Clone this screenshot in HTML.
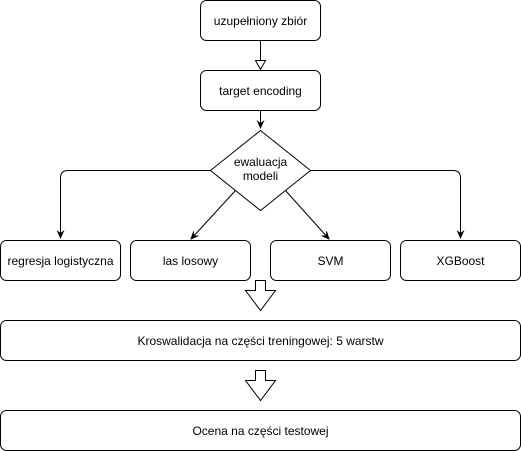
<!DOCTYPE html>
<html><head><style>body{margin:0;background:#fff}svg{display:block}text{font-family:"Liberation Sans",sans-serif;font-size:12px;fill:#000}</style></head><body>
<svg width="521" height="451" viewBox="0 0 521 451">
<defs>
<marker id="a" markerWidth="10" markerHeight="10" refX="8" refY="5" orient="auto" markerUnits="userSpaceOnUse"><path d="M0,1 L9,5 L0,9 L3,5 Z" fill="#000"/></marker>
</defs>
<g fill="#fff" stroke="#000" stroke-width="1">
<rect x="200.5" y="0.5" width="120" height="40" rx="6"/>
<rect x="200.5" y="70.5" width="120" height="40" rx="6"/>
<path d="M260.5,130.5 L310.5,170.5 L260.5,210.5 L210.5,170.5 Z"/>
<rect x="0.5" y="240.5" width="120" height="40" rx="6"/>
<rect x="130.5" y="240.5" width="120" height="40" rx="6"/>
<rect x="270.5" y="240.5" width="120" height="40" rx="6"/>
<rect x="400.5" y="240.5" width="120" height="40" rx="6"/>
<rect x="0.5" y="320.5" width="520" height="40" rx="6"/>
<rect x="0.5" y="410.5" width="520" height="40" rx="6"/>
<path d="M255.5,280.5 h10 v10 h10 l-15,20 l-15,-20 h10 Z"/>
<path d="M255.5,370.5 h10 v10 h10 l-15,20 l-15,-20 h10 Z"/>
</g>
<g fill="none" stroke="#000" stroke-width="1">
<path d="M260.5,40.5 V60"/>
<path d="M255.5,60.5 L265.5,60.5 L260.5,69.5 Z" fill="#fff"/>
<path d="M260.5,110.5 V128" marker-end="url(#a)"/>
<path d="M210.5,170.5 H68 Q60.5,170.5 60.5,178 V238" marker-end="url(#a)"/>
<path d="M310.5,170.5 H453 Q460.5,170.5 460.5,178 V238" marker-end="url(#a)"/>
<path d="M235.5,190.5 L191,239" marker-end="url(#a)"/>
<path d="M285.5,190.5 L329,239" marker-end="url(#a)"/>
</g>
<g text-anchor="middle">
<text x="260.5" y="25">uzupełniony zbiór</text>
<text x="260.5" y="95">target encoding</text>
<text x="260.5" y="166">ewaluacja</text>
<text x="260.5" y="180">modeli</text>
<text x="60.5" y="265">regresja logistyczna</text>
<text x="190.5" y="265">las losowy</text>
<text x="330.5" y="265">SVM</text>
<text x="460.5" y="265">XGBoost</text>
<text x="260.5" y="345">Kroswalidacja na części treningowej: 5 warstw</text>
<text x="260.5" y="435">Ocena na części testowej</text>
</g>
</svg>
</body></html>
